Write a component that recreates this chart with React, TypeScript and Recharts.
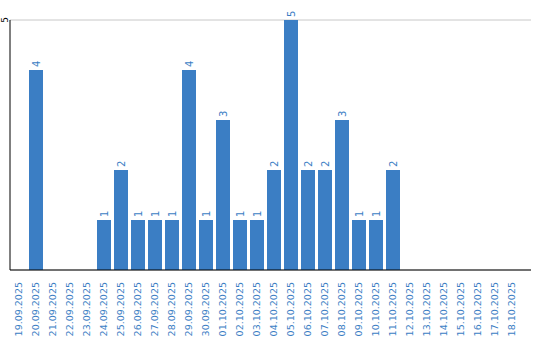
import React from "react";
import { BarChart, Bar, XAxis, YAxis, CartesianGrid, LabelList } from "recharts";

const dates = [
  "19.09.2025", "20.09.2025", "21.09.2025", "22.09.2025", "23.09.2025", "24.09.2025",
  "25.09.2025", "26.09.2025", "27.09.2025", "28.09.2025", "29.09.2025", "30.09.2025",
  "01.10.2025", "02.10.2025", "03.10.2025", "04.10.2025", "05.10.2025", "06.10.2025",
  "07.10.2025", "08.10.2025", "09.10.2025", "10.10.2025", "11.10.2025", "12.10.2025",
  "13.10.2025", "14.10.2025", "15.10.2025", "16.10.2025", "17.10.2025", "18.10.2025",
];
const counts = [0, 4, 0, 0, 0, 1, 2, 1, 1, 1, 4, 1, 3, 1, 1, 2, 5, 2, 2, 3, 1, 1, 2, 0, 0, 0, 0, 0, 0, 0];
const yTicks = [5];

const BLUE = "#3b7ec4";
const FONT = "DejaVu Sans, Verdana, sans-serif";

const data = dates.map((d, i) => ({ date: d, count: counts[i] }));

// date labels, rotated and reading upward
const DateTick = ({ x, y, payload }: any) => (
  <g transform={`translate(${x},${y + 4})`}>
    <text transform="rotate(-90)" textAnchor="end" dy="0.35em" fill={BLUE} fontSize={9.5} fontFamily={FONT}>
      {payload.value}
    </text>
  </g>
);

const ValueTick = ({ y, payload }: any) => (
  <g transform={`translate(5,${y})`}>
    <text transform="rotate(-90)" textAnchor="middle" dy="0.35em" fill="#000" fontSize={9} fontFamily={FONT}>
      {payload.value}
    </text>
  </g>
);

const BarValue = ({ x, y, width, value }: any) => {
  if (!value) return null;
  return (
    <g transform={`translate(${x + width / 2},${y - 3})`}>
      <text transform="rotate(-90)" textAnchor="start" dy="0.35em" fill={BLUE} fontSize={10} fontFamily={FONT}>
        {value}
      </text>
    </g>
  );
};

export default function App() {
  return (
    <div style={{ position: "absolute", left: 0, top: 0, background: "#fff" }}>
      <BarChart width={540} height={340} data={data} margin={{ top: 20, right: 9, bottom: 0, left: 0 }} barSize={14}>
        <CartesianGrid vertical={false} stroke="#c8c8c8" />
        <XAxis
          dataKey="date"
          interval={0}
          height={70}
          tick={<DateTick />}
          tickLine={false}
          axisLine={{ stroke: "#000" }}
          padding={{ left: 0, right: 11 }}
        />
        <YAxis
          domain={[0, 5]}
          ticks={yTicks}
          width={10}
          tick={<ValueTick />}
          tickLine={false}
          axisLine={{ stroke: "#000" }}
        />
        <Bar dataKey="count" fill={BLUE} isAnimationActive={false}>
          <LabelList dataKey="count" content={<BarValue />} />
        </Bar>
      </BarChart>
    </div>
  );
}
